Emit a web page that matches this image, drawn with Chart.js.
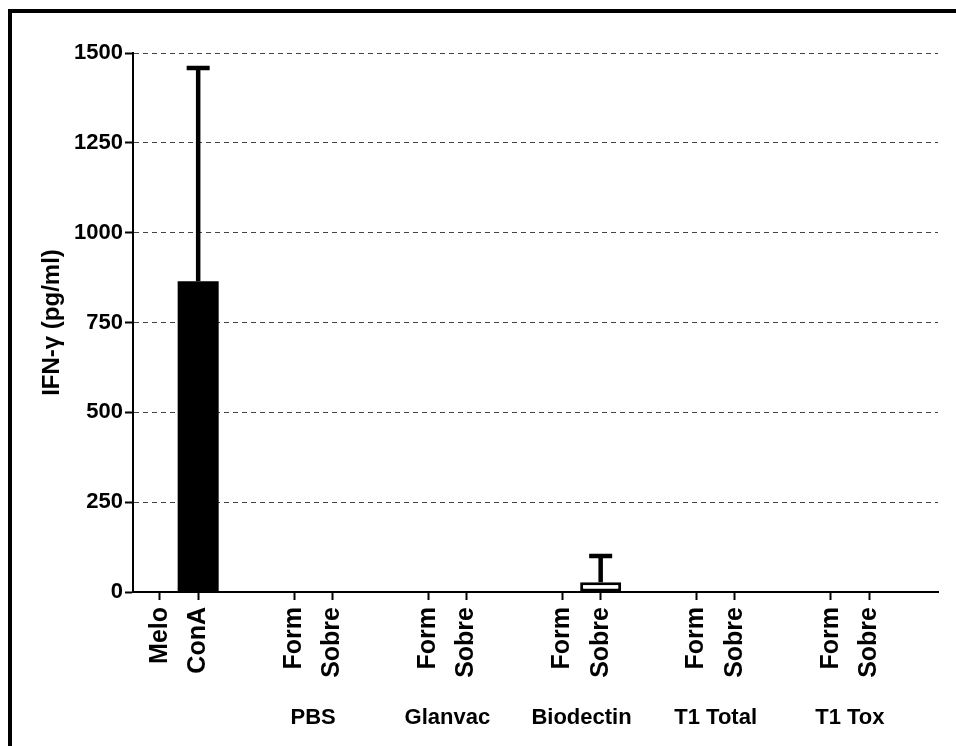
<!DOCTYPE html>
<html>
<head>
<meta charset="utf-8">
<script src="https://cdn.jsdelivr.net/npm/chart.js@4/dist/chart.umd.min.js"></script>
<style>
	body { margin: 0; background: #fff; overflow: hidden; }
	#wrap { position: relative; width: 956px; height: 746px; }
	#frame { position: absolute; left: 8px; top: 9px; width: 2000px; height: 2000px; border: 4px solid #000; }
	#chart { position: absolute; left: 0; top: 0; }
</style>
</head>
<body>
<div id="wrap">
	<div id="frame"></div>
	<canvas id="chart" width="956" height="746"></canvas>
</div>
<script>
// categories and their slot positions on the x axis
var labels = ['Melo', 'ConA', 'Form', 'Sobre', 'Form', 'Sobre', 'Form', 'Sobre', 'Form', 'Sobre', 'Form', 'Sobre'];
var xPos = [0, 1, 3.5, 4.5, 7, 8, 10.5, 11.5, 14, 15, 17.5, 18.5];
var values = [0, 865, 0, 0, 0, 0, 0, 27, 0, 0, 0, 0];
var errors = [0, 593, 0, 0, 0, 0, 0, 73, 0, 0, 0, 0];
var groups = ['PBS', 'Glanvac', 'Biodectin', 'T1 Total', 'T1 Tox'];
var groupPos = [4, 7.5, 11, 14.5, 18];
var yTicks = [0, 250, 500, 750, 1000, 1250, 1500];

var FONT = '"Liberation Sans", Arial, sans-serif';

// ConA is a solid black bar, the rest are open bars
var barColors = [], barBorders = [];
for (var i = 0; i < labels.length; i++) {
	barColors.push(labels[i] == 'ConA' ? '#000' : '#fff');
	barBorders.push(labels[i] == 'ConA' ? 0 : 3);
}

var errorBars = {
	id: 'errorBars',
	afterDatasetsDraw: function (chart) {
		var ctx = chart.ctx;
		var xs = chart.scales.x, ys = chart.scales.y;
		ctx.save();
		ctx.strokeStyle = '#000';
		ctx.lineWidth = 4.5;
		for (var i = 0; i < values.length; i++) {
			if (!errors[i]) continue;
			var x = xs.getPixelForValue(xPos[i]);
			var y0 = ys.getPixelForValue(values[i]);
			var y1 = ys.getPixelForValue(values[i] + errors[i]);
			ctx.beginPath();
			ctx.moveTo(x, y0);
			ctx.lineTo(x, y1);
			ctx.moveTo(x - 11.5, y1);
			ctx.lineTo(x + 11.5, y1);
			ctx.stroke();
		}
		ctx.restore();
	}
};

var groupLabels = {
	id: 'groupLabels',
	afterDraw: function (chart) {
		var ctx = chart.ctx;
		var xs = chart.scales.x;
		ctx.save();
		ctx.fillStyle = '#000';
		ctx.font = 'bold 22px ' + FONT;
		ctx.textAlign = 'center';
		ctx.textBaseline = 'middle';
		for (var i = 0; i < groups.length; i++) {
			ctx.fillText(groups[i], xs.getPixelForValue(groupPos[i]), 718);
		}
		ctx.restore();
	}
};

var data = [];
for (var i = 0; i < labels.length; i++) {
	data.push({x: xPos[i], y: values[i]});
}

var chart = new Chart(document.getElementById('chart'), {
	type: 'bar',
	data: {
		datasets: [{
			data: data,
			backgroundColor: barColors,
			borderColor: '#000',
			borderWidth: barBorders,
			borderSkipped: false,
			barPercentage: 1.07,
			categoryPercentage: 1
		}]
	},
	options: {
		responsive: false,
		animation: false,
		events: [],
		layout: { padding: { left: 0, top: 53, right: 18, bottom: 0 } },
		plugins: { legend: { display: false }, tooltip: { enabled: false } },
		scales: {
			x: {
				type: 'linear',
				min: -0.7,
				max: 20.3,
				offset: false,
				afterBuildTicks: function (scale) {
					scale.ticks = xPos.map(function (v) { return {value: v}; });
				},
				afterFit: function (scale) { scale.height = 154; },
				grid: { offset: false, drawOnChartArea: false, drawTicks: true, tickLength: 8, tickColor: '#000', tickWidth: 2 },
				border: { color: '#000', width: 2 },
				ticks: {
					autoSkip: false,
					minRotation: 90,
					maxRotation: 90,
					padding: 7,
					color: '#000',
					font: { family: FONT, size: 25, weight: 'bold' },
					callback: function (value) {
						var k = xPos.indexOf(value);
						return k >= 0 ? labels[k] : '';
					}
				}
			},
			y: {
				min: 0,
				max: 1500,
				afterBuildTicks: function (scale) {
					scale.ticks = yTicks.map(function (v) { return {value: v}; });
				},
				afterFit: function (scale) { scale.width = 133; },
				grid: { color: '#444', lineWidth: 1, tickLength: 8, tickColor: '#000', tickWidth: 2 },
				border: { color: '#000', width: 2, dash: [5, 4] },
				ticks: {
					padding: 2,
					color: '#000',
					font: { family: FONT, size: 22, weight: 'bold' },
					callback: function (value) { return String(value); }
				},
				title: {
					display: true,
					text: 'IFN-γ (pg/ml)',
					color: '#000',
					padding: { top: 38, bottom: 0 },
					font: { family: FONT, size: 24, weight: 'bold' }
				}
			}
		}
	},
	plugins: [errorBars, groupLabels]
});
</script>
</body>
</html>
